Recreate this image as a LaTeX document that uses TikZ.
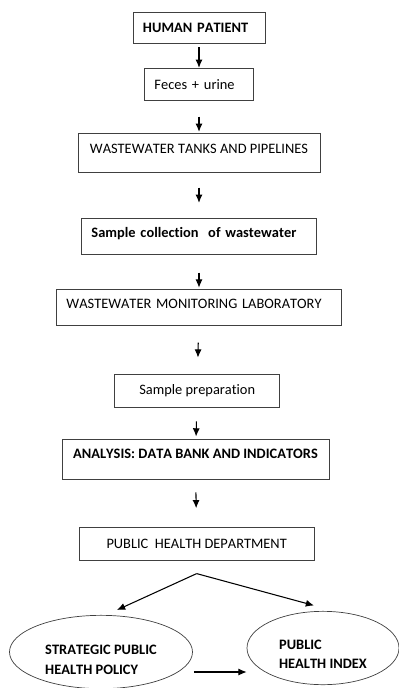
\documentclass[tikz,border=0pt]{standalone}
\usepackage{fontspec}
\setmainfont{Carlito}[Ligatures=NoCommon, Kerning=Off]
\usetikzlibrary{shapes,arrows.meta,positioning}
\newcommand{\lift}[2]{\raisebox{#1}[\height][\depth]{#2}}
\tikzstyle{block} = [rectangle, draw=black!75, line width=0.6pt,
    inner xsep=0.3cm, inner ysep=0pt, align=left, font=\fontsize{12.3}{15}\selectfont]
\tikzstyle{oval} = [ellipse, draw=black!75, line width=0.6pt,
    inner sep=0pt, font=\fontsize{12.3}{17}\selectfont\bfseries]
\tikzstyle{line} = [draw, line width=0.9pt, -{Latex[length=7pt,width=6pt]}]

\begin{document}
\begin{tikzpicture}[x=0.03cm, y=-0.03cm]
    \useasboundingbox (0,0) rectangle (399,688);
    % Place nodes
    \node [block, text width=3.36cm, minimum height=0.93cm] (patient) at (199,27.5) {\textbf{HUMAN PATIENT}};
    \node [block, below of=patient, node distance=1.70cm, text width=2.67cm, minimum height=0.96cm] (feces) {Feces + urine};
    \node [block, below of=feces, node distance=2.06cm, minimum width=7.26cm, minimum height=1.17cm] (tanks) {\lift{3.5pt}{WASTEWATER TANKS AND PIPELINES}};
    \node [block, below of=tanks, node distance=2.50cm, text width=6.45cm, minimum height=1.08cm] (collection) {\lift{2.5pt}{\textbf{Sample collection\ \ of wastewater}}};
    \node [block, below of=collection, node distance=2.13cm, text width=7.95cm, minimum height=1.08cm] (lab) {\lift{2.5pt}{WASTEWATER MONITORING LABORATORY}};
    \node [block, below of=lab, node distance=2.50cm, minimum width=4.95cm, minimum height=0.99cm, xshift=-1.5pt] (prep) {Sample preparation};
    \node [block, below of=prep, node distance=2.06cm, minimum width=8.01cm, minimum height=1.2cm, xshift=-1.5pt] (analysis) {\lift{4.5pt}{\textbf{ANALYSIS: DATA BANK AND INDICATORS}}};
    \node [block, below of=analysis, node distance=2.54cm, minimum width=7.05cm, minimum height=0.99cm, xshift=1pt] (dept) {PUBLIC\ \ HEALTH DEPARTMENT};
    \node [oval, minimum width=5.49cm, minimum height=2.2cm] (policy) at (101,652)
        {\lift{-7pt}{\begin{tabular}{@{}l@{}}STRATEGIC PUBLIC\\HEALTH POLICY\end{tabular}}};
    \node [oval, minimum width=4.56cm, minimum height=2.2cm] (index) at (323,648)
        {\lift{-6pt}{\begin{tabular}{@{}l@{}}PUBLIC\\HEALTH INDEX\end{tabular}}};

    \coordinate (apex) at ([yshift=-11pt]dept.south);
    \coordinate (policytip) at ([shift={(16,-5)}]policy.north);
    \coordinate (indextip) at ([shift={(-9,-5.5)}]index.north);

    % Draw edges
    \path [line, shorten <=3.4pt] (patient) -- (feces);
    \path [line, shorten <=13.7pt, shorten >=1pt] (feces) -- (tanks);
    \path [line, shorten <=12.8pt, shorten >=12.8pt] (tanks) -- (collection);
    \path [line, shorten <=15.4pt, shorten >=1pt] (collection) -- (lab);
    \path [line, shorten <=14.5pt, shorten >=13.7pt] (lab) -- (prep);
    \path [line, shorten <=12pt, shorten >=2pt] (prep) -- (analysis);
    \path [line, shorten <=11pt, shorten >=16pt] (analysis) -- (dept);
    \path [line] (apex) -- (policytip);
    \path [line] (apex) -- (indextip);
    \path [line] ([shift={(1,20)}]policy.east) -- ([shift={(0,24)}]index.west);
\end{tikzpicture}
\end{document}
